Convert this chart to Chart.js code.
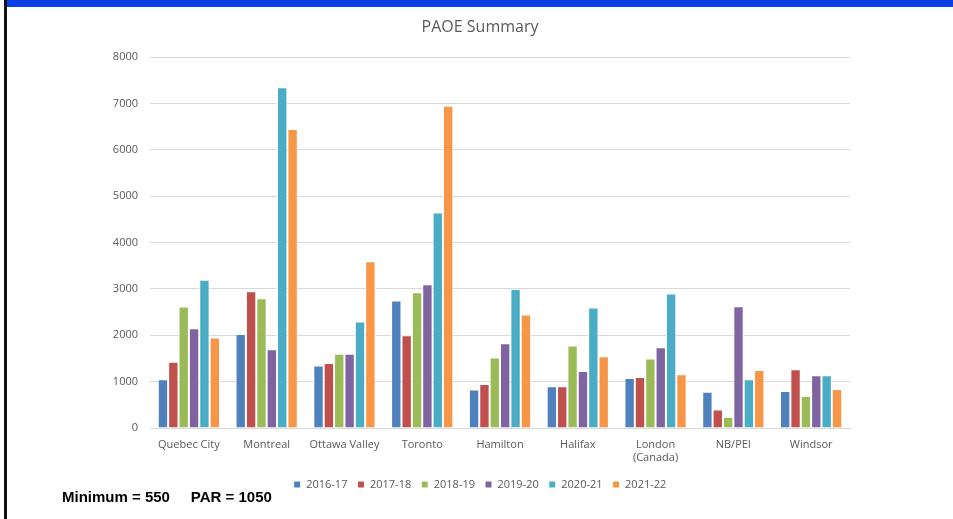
<!DOCTYPE html>
<html>
<head>
<meta charset="utf-8">
<script src="https://cdn.jsdelivr.net/npm/chart.js@4"></script>
<style>
  body { margin: 0; background: #fff; width: 953px; height: 519px; overflow: hidden; position: relative; }
  #topbar { position: absolute; left: 7px; top: 0; width: 946px; height: 7px; background: #0a3fe6; }
  #leftbar { position: absolute; left: 4px; top: 0; width: 3px; height: 519px; background: #111; }
  #wrap { position: absolute; left: 7px; top: 7px; width: 946px; height: 512px; }
  #note { position: absolute; left: 62px; top: 488px; font: bold 15px "Liberation Sans", Arial, sans-serif; color: #000; white-space: pre; }
</style>
</head>
<body>
<div id="topbar"></div>
<div id="leftbar"></div>
<div id="wrap"><canvas id="paoe-chart"></canvas></div>
<div id="note">Minimum = 550     PAR = 1050</div>
<script>
const categories = ['Quebec City', 'Montreal', 'Ottawa Valley', 'Toronto', 'Hamilton', 'Halifax', ['London', '(Canada)'], 'NB/PEI', 'Windsor'];
const years = ['2016-17', '2017-18', '2018-19', '2019-20', '2020-21', '2021-22'];
const y2016 = [1050, 2030, 1350, 2750, 830, 900, 1080, 780, 800];
const y2017 = [1430, 2950, 1400, 2000, 950, 900, 1100, 400, 1270];
const y2018 = [2620, 2800, 1600, 2930, 1520, 1780, 1500, 245, 690];
const y2019 = [2150, 1700, 1600, 3100, 1830, 1230, 1740, 2625, 1140];
const y2020 = [3200, 7350, 2300, 4650, 3000, 2600, 2900, 1050, 1140];
const y2021 = [1950, 6450, 3600, 6950, 2450, 1550, 1160, 1250, 840];
const colors = ['#4f81bd', '#c0504d', '#9bbb59', '#8064a2', '#4bacc6', '#f79646'];

const series = [y2016, y2017, y2018, y2019, y2020, y2021];
const font = { family: '"Open Sans", sans-serif', size: 11 };

new Chart(document.getElementById('paoe-chart').getContext('2d'), {
    type: 'bar',
    data: {
        labels: categories,
        datasets: series.map((vals, i) => ({
            label: years[i],
            data: vals,
            backgroundColor: colors[i],
            borderColor: '#ffffff',
            borderWidth: 1,
            borderSkipped: 'bottom',
            categoryPercentage: 0.8,
            barPercentage: 1.0
        }))
    },
    options: {
        responsive: true,
        maintainAspectRatio: false,
        animation: false,
        layout: { padding: { left: 0, right: 0, top: 0, bottom: 19 } },
        plugins: {
            title: {
                display: true,
                text: 'PAOE Summary',
                color: '#595959',
                font: { family: '"Open Sans", sans-serif', size: 16, weight: 'normal' },
                padding: { top: 11, bottom: 20 }
            },
            legend: {
                position: 'bottom',
                labels: {
                    color: '#595959',
                    font: font,
                    boxWidth: 7,
                    boxHeight: 7,
                    padding: 10
                }
            },
            tooltip: { enabled: false }
        },
        scales: {
            x: {
                grid: { display: false },
                border: { color: '#d9d9d9' },
                ticks: { color: '#595959', font: font, maxRotation: 0, padding: 2 },
                afterFit: scale => { scale.height = 41; }
            },
            y: {
                min: 0,
                max: 8000,
                grid: { color: '#d9d9d9', drawTicks: false },
                border: { display: false },
                ticks: { stepSize: 1000, color: '#595959', font: font, padding: 12, callback: v => String(v) },
                afterFit: scale => { scale.width = 143; }
            },
            // empty right-hand space so title and legend center over the whole frame
            spacer: {
                type: 'linear',
                position: 'right',
                display: true,
                grid: { display: false, drawTicks: false },
                border: { display: false },
                ticks: { display: false },
                afterFit: scale => { scale.width = 103; }
            }
        }
    }
});
</script>
</body>
</html>
